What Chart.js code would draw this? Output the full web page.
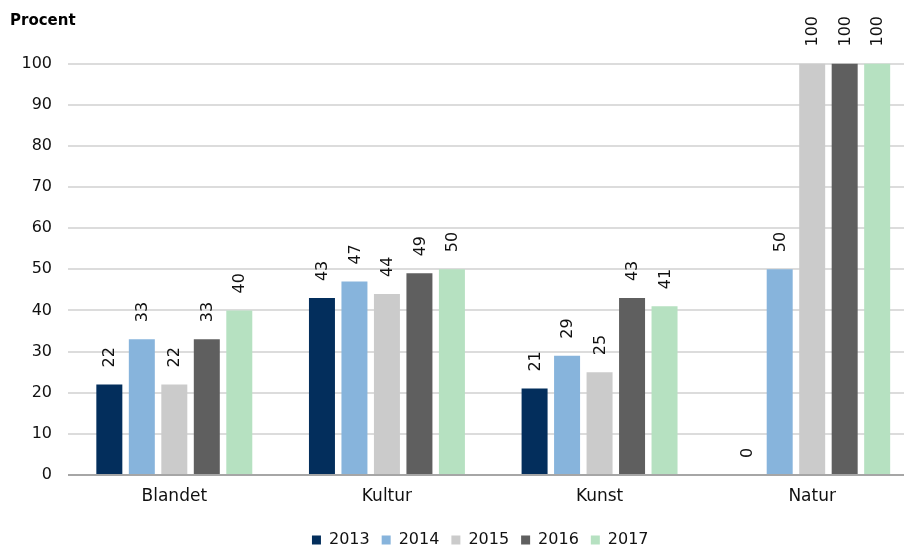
<!DOCTYPE html>
<html>
<head>
<meta charset="utf-8">
<script src="https://cdn.jsdelivr.net/npm/chart.js@4"></script>
<style>
  html, body { margin: 0; padding: 0; background: #fff; overflow: hidden; }
  #wrap { position: relative; width: 920px; height: 546px; }
</style>
</head>
<body>
<div id="wrap"><canvas id="chart"></canvas></div>
<script>
// Andel i procent pr. kategori og år
const categories = ['Blandet', 'Kultur', 'Kunst', 'Natur'];
const years = ['2013', '2014', '2015', '2016', '2017'];
const values2013 = [22, 43, 21, 0];
const values2014 = [33, 47, 29, 50];
const values2015 = [22, 44, 25, 100];
const values2016 = [33, 49, 43, 100];
const values2017 = [40, 50, 41, 100];
const yTicks = [0, 10, 20, 30, 40, 50, 60, 70, 80, 90, 100];

const seriesValues = [values2013, values2014, values2015, values2016, values2017];
const seriesColors = ['#032e5c', '#87b4dc', '#cbcbcb', '#5f5f5f', '#b6e1c1'];

const fontFamily = '"DejaVu Sans", sans-serif';

Chart.defaults.font.family = fontFamily;
Chart.defaults.color = '#111';

// Write the value above each bar, rotated to read upwards
const barValueLabels = {
    id: 'barValueLabels',
    afterDatasetsDraw(chart) {
        const ctx = chart.ctx;
        ctx.save();
        ctx.font = '16px ' + fontFamily;
        ctx.fillStyle = '#111';
        ctx.textAlign = 'left';
        ctx.textBaseline = 'middle';
        chart.data.datasets.forEach((ds, i) => {
            chart.getDatasetMeta(i).data.forEach((bar, j) => {
                ctx.save();
                ctx.translate(bar.x, bar.y - 17);
                ctx.rotate(-Math.PI / 2);
                ctx.fillText(String(ds.data[j]), 0, 1);
                ctx.restore();
            });
        });
        ctx.restore();
    }
};

// Nudge the legend a bit right and down from where the layout puts it
const legendOffset = {
    id: 'legendOffset',
    afterLayout(chart) {
        const legend = chart.legend;
        legend.left += 16;
        legend.right += 16;
        legend.top += 12;
        legend.bottom += 12;
    }
};

const datasets = years.map((year, i) => ({
    label: year,
    data: seriesValues[i],
    backgroundColor: seriesColors[i],
    borderWidth: 0,
    categoryPercentage: 0.764,
    barPercentage: 0.8
}));

new Chart(document.getElementById('chart'), {
    type: 'bar',
    data: { labels: categories, datasets: datasets },
    plugins: [barValueLabels, legendOffset],
    options: {
        responsive: true,
        maintainAspectRatio: false,
        animation: false,
        layout: { padding: { left: 10, right: 1.5, top: 0, bottom: 0 } },
        plugins: {
            title: {
                display: true,
                text: 'Procent',
                align: 'start',
                color: '#000',
                font: { size: 15, weight: 'bold' },
                padding: { top: 12, bottom: 33.5 }
            },
            legend: {
                position: 'bottom',
                labels: {
                    boxWidth: 9,
                    boxHeight: 9,
                    padding: 12,
                    font: { size: 16 }
                }
            },
            tooltip: { enabled: false }
        },
        scales: {
            x: {
                grid: { display: false, drawTicks: false },
                border: { display: false },
                ticks: { padding: 11, font: { size: 17 } },
                afterFit: scale => { scale.height = 33; }
            },
            y: {
                min: 0,
                max: 100,
                afterBuildTicks: scale => {
                    scale.ticks = yTicks.map(v => ({ value: v }));
                },
                afterFit: scale => { scale.width = 58; },
                border: { display: false },
                grid: {
                    drawTicks: false,
                    lineWidth: 2,
                    color: c => (c.tick && c.tick.value === 0) ? '#a6a6a6' : '#dcdcdc'
                },
                ticks: { padding: 16, font: { size: 16 } }
            }
        }
    }
});
</script>
</body>
</html>
